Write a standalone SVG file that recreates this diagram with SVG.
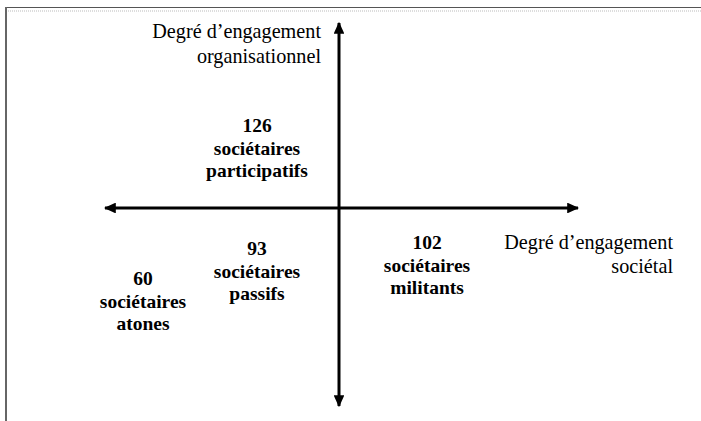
<svg xmlns="http://www.w3.org/2000/svg" width="701" height="421" viewBox="0 0 701 421">
<style>
.lbl{font-family:'Liberation Serif','DejaVu Serif',serif;font-size:20.2px;fill:#000}
.num{font-family:'Liberation Serif','DejaVu Serif',serif;font-size:19.5px;font-weight:bold;fill:#000;text-anchor:middle}
.axis{stroke:#000;stroke-width:3;fill:none}
</style>
<defs>
<marker id="ah" viewBox="0 0 10 10" refX="9" refY="5" markerWidth="4" markerHeight="3.6" markerUnits="strokeWidth" orient="auto" preserveAspectRatio="none">
<path d="M0,0 L10,5 L0,10 Z" fill="#000"/>
</marker>
</defs>
<rect width="701" height="421" fill="#fff"/>
<g id="frame">
<line x1="5" y1="7.5" x2="701" y2="7.5" stroke="#555" stroke-width="1.2"/>
<line x1="8" y1="11" x2="701" y2="11" stroke="#bbb" stroke-width="1" stroke-dasharray="1,1"/>
<line x1="6" y1="7" x2="6" y2="421" stroke="#666" stroke-width="2"/>
</g>
<g id="connectors">
<line class="axis" x1="339" y1="210" x2="339" y2="23" marker-end="url(#ah)"/>
<line class="axis" x1="339" y1="210" x2="339" y2="406" marker-end="url(#ah)"/>
<line class="axis" x1="339" y1="208" x2="105" y2="208" marker-end="url(#ah)"/>
<line class="axis" x1="339" y1="208" x2="578" y2="208" marker-end="url(#ah)"/>
</g>
<g id="axis-y-label">
<text class="lbl" text-anchor="end" x="321" y="37.5">Degré d’engagement</text>
<text class="lbl" text-anchor="end" x="321" y="62.5">organisationnel</text>
</g>
<g id="axis-x-label">
<text class="lbl" text-anchor="end" x="673" y="249">Degré d’engagement</text>
<text class="lbl" text-anchor="end" x="673" y="273">sociétal</text>
</g>
<g id="participatifs">
<text class="num" x="257" y="132">126</text>
<text class="num" x="257" y="155">sociétaires</text>
<text class="num" x="257" y="177">participatifs</text>
</g>
<g id="passifs">
<text class="num" x="257" y="255">93</text>
<text class="num" x="257" y="278">sociétaires</text>
<text class="num" x="257" y="300">passifs</text>
</g>
<g id="atones">
<text class="num" x="143" y="285">60</text>
<text class="num" x="143" y="308">sociétaires</text>
<text class="num" x="143" y="330">atones</text>
</g>
<g id="militants">
<text class="num" x="427" y="249">102</text>
<text class="num" x="427" y="272">sociétaires</text>
<text class="num" x="427" y="294">militants</text>
</g>
</svg>
